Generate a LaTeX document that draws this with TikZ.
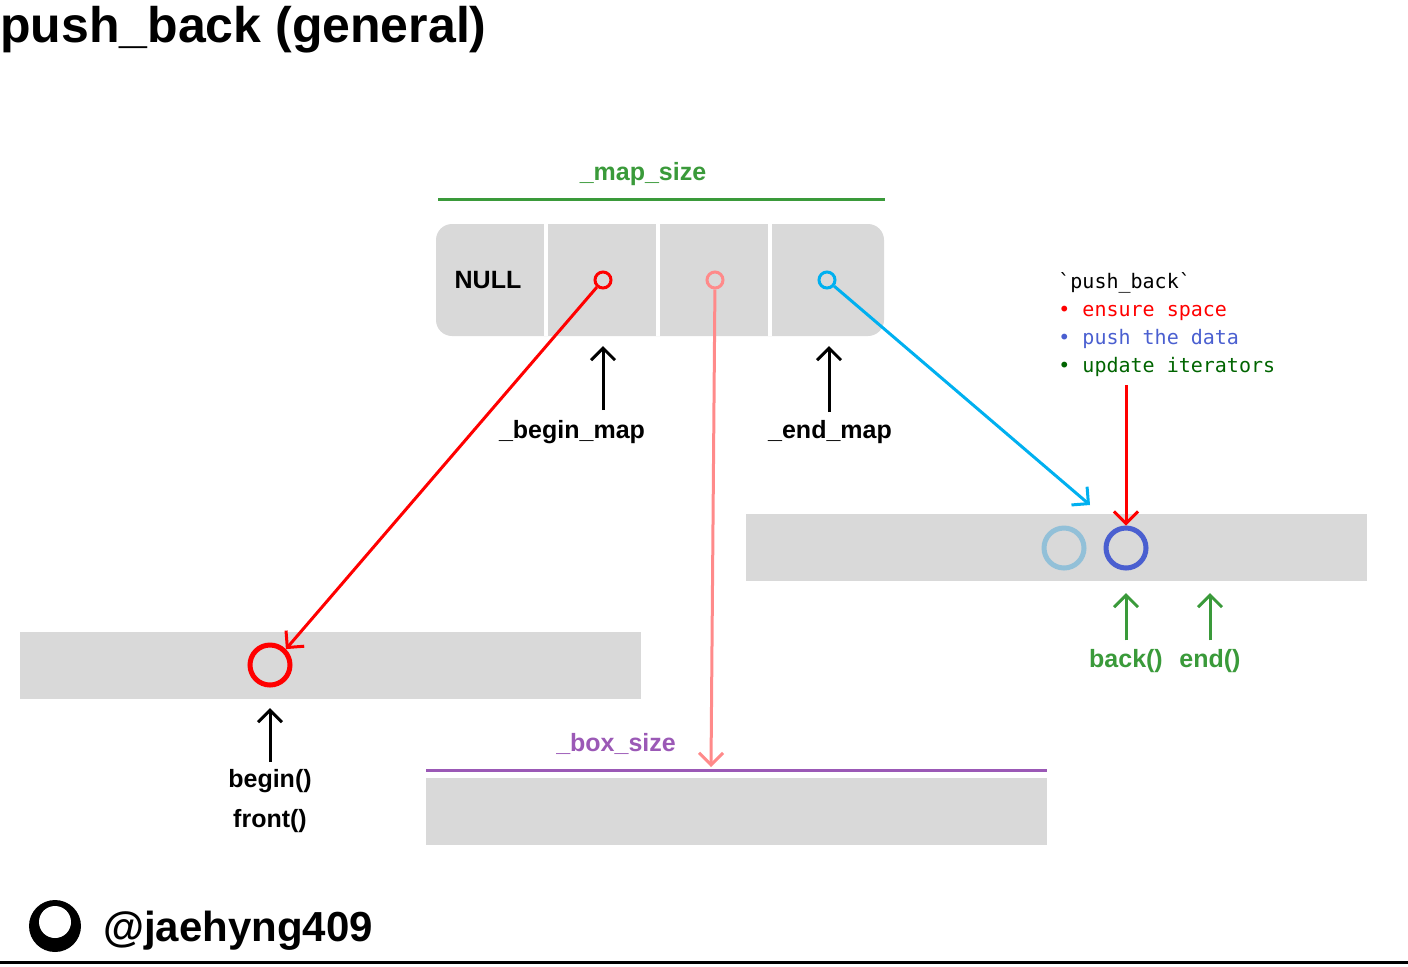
\documentclass[tikz,border=0pt]{standalone}
\usepackage{fontspec}
\setmainfont{Liberation Sans}
\setmonofont{DejaVu Sans Mono}
\usetikzlibrary{arrows.meta}
\definecolor{cellgray}{HTML}{D9D9D9}
\definecolor{mapgreen}{HTML}{3A9A3A}
\definecolor{boxpurple}{HTML}{9B59B6}
\definecolor{salmon}{HTML}{FF8A8A}
\definecolor{cyanline}{HTML}{00B0F0}
\definecolor{pushblue}{HTML}{4A5FD0}
\definecolor{oldblue}{HTML}{92C0D8}
\definecolor{darkgreen}{HTML}{006400}
\tikzset{
  lbl/.style={font=\bfseries\fontsize{12.5}{15}\selectfont},
  ptr/.style={line width=1.5pt, -{Straight Barb[length=6pt,width=12pt]}},
  dot/.style={circle, draw, line width=1.5pt, minimum size=8pt, inner sep=0pt},
  elem/.style={circle, draw, line width=2.5pt, minimum size=20pt, inner sep=0pt},
  block/.style={fill=cellgray, draw=none}
}
\begin{document}
\begin{tikzpicture}[x=0.5pt, y=-0.5pt]
    \useasboundingbox (0,0) rectangle (1408,966);

    \node[anchor=west, inner sep=0pt, font=\bfseries\fontsize{25}{28}\selectfont] (title) at (0,30) {push\_back (general)};

    % map
    \draw[mapgreen, line width=1.5pt] (438,199) -- (885,199);
    \node[lbl, text=mapgreen] (mapsize) at (643,174) {\_map\_size};
    \fill[cellgray, rounded corners=8pt] (436,224) rectangle (884,336);
    \foreach \x in {546,658,770} {
        \fill[white] (\x-2,224) rectangle (\x+2,336);
    }
    \node[lbl] (null) at (488,280) {NULL};
    \node[dot, red] (m1) at (603,280) {};
    \node[dot, salmon] (m2) at (715,280) {};
    \node[dot, cyanline] (m3) at (827,280) {};

    \node[lbl] (beginmap) at (572,432) {\_begin\_map};
    \node[lbl] (endmap) at (830,432) {\_end\_map};
    \draw[ptr] (603,410) -- (603,346);
    \draw[ptr] (829,412) -- (829,346);

    % boxes
    \fill[block] (20,632) rectangle (641,699);
    \fill[block] (746,514) rectangle (1367,581);
    \draw[boxpurple, line width=1.5pt] (426,770) -- (1047,770);
    \node[lbl, text=boxpurple] (boxsize) at (616,744) {\_box\_size};
    \fill[block] (426,778) rectangle (1047,845);

    \node[elem, red] (first) at (270,665) {};
    \node[elem, oldblue] (prev) at (1064,548) {};
    \node[elem, pushblue] (last) at (1126,548) {};
    \coordinate (pinto) at (711,767);
    \coordinate (cyanend) at (1090,505);

    \draw[ptr, red] (m1) -- (first.north east);
    \draw[ptr, salmon] (m2) -- (pinto);
    \draw[ptr, cyanline] (m3) -- (cyanend);

    % note
    \node[anchor=north west, align=left, inner sep=0pt, font=\ttfamily\fontsize{10}{14}\selectfont] (note) at (1058,272)
        {`push\_back`\\
         \textcolor{red}{\textbullet\ ensure space}\\
         \textcolor{pushblue}{\textbullet\ push the data}\\
         \textcolor{darkgreen}{\textbullet\ update iterators}};
    \coordinate (notefoot) at (1126,385);
    \draw[ptr, red] (notefoot) -- (last.north);

    % iterators
    \node[lbl, text=mapgreen] (back) at (1126,661) {back()};
    \node[lbl, text=mapgreen] (end) at (1210,661) {end()};
    \draw[ptr, mapgreen] (back.north) ++(0,-2) -- (1126,593);
    \draw[ptr, mapgreen] (end.north) ++(0,-2) -- (1210,593);

    \node[lbl, align=center] (begin) at (270,801) {begin()\\[5pt]front()};
    \draw[ptr] (270,762) -- (270,708);

    % footer
    \node[circle, fill=black, minimum size=26pt, inner sep=0pt] (logo) at (55,926) {};
    \node[circle, fill=white, minimum size=16pt, inner sep=0pt] at (55,922) {};
    \node[anchor=west, font=\bfseries\fontsize{21}{24}\selectfont] (handle) at (96,931) {@jaehyng409};
    \draw[line width=1.5pt] (0,962) -- (1408,962);
\end{tikzpicture}
\end{document}
